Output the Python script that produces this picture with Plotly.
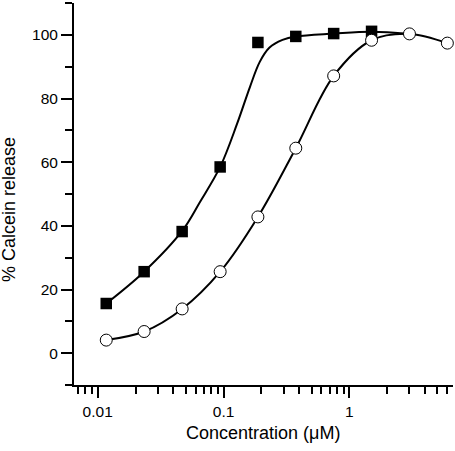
import plotly.graph_objects as go

# Concentrations (µM), twofold dilution series
conc_squares = [0.0117, 0.0234, 0.0469, 0.094, 0.1875, 0.375, 0.75, 1.5]
release_squares = [15.6, 25.6, 38.2, 58.5, 97.6, 99.5, 100.4, 101.1]

conc_circles = [0.0117, 0.0234, 0.0469, 0.094, 0.1875, 0.375, 0.75, 1.5, 3.0, 6.0]
release_circles = [4.1, 6.8, 13.9, 25.6, 42.8, 64.4, 87.1, 98.3, 100.3, 97.4]

# Smooth fitted curve for the filled squares
fit_sq_conc = [0.0117, 0.0234, 0.0469, 0.065, 0.094, 0.128, 0.162, 0.194, 0.232, 0.294, 0.375, 0.75, 1.5, 3.0]
fit_sq_release = [15.6, 25.6, 38.4, 47.5, 58.5, 72.0, 83.6, 91.5, 96.0, 98.4, 99.5, 100.4, 101.0, 100.3]

x_tick_vals = [0.01, 0.1, 1]
x_tick_text = ["0.01", "0.1", "1"]
y_tick_vals = [0, 20, 40, 60, 80, 100]

x_title = "Concentration (\u03bcM)"
y_title = "% Calcein release"

FONT = "Liberation Sans, Arial, sans-serif"
W, H = 455, 451
ML, MR, MT, MB = 74, 2, 3, 66

fig = go.Figure()

fig.add_trace(go.Scatter(
    x=fit_sq_conc, y=fit_sq_release, mode="lines",
    line=dict(color="black", width=2, shape="spline", smoothing=1.0),
    hoverinfo="skip"))
fig.add_trace(go.Scatter(
    x=conc_circles, y=release_circles, mode="lines",
    line=dict(color="black", width=2, shape="spline", smoothing=1.0),
    hoverinfo="skip"))
fig.add_trace(go.Scatter(
    x=conc_squares, y=release_squares, mode="markers",
    marker=dict(symbol="square", size=11.5, color="black",
                line=dict(color="black", width=0))))
fig.add_trace(go.Scatter(
    x=conc_circles, y=release_circles, mode="markers", cliponaxis=False,
    marker=dict(symbol="circle", size=12, color="white",
                line=dict(color="black", width=1))))

pw = W - ML - MR
ph = H - MT - MB

fig.update_layout(
    width=W, height=H,
    margin=dict(l=ML, r=MR, t=MT, b=MB),
    paper_bgcolor="white", plot_bgcolor="white",
    showlegend=False,
    font=dict(family=FONT, color="black", size=15),
    xaxis=dict(
        type="log", range=[-2.188, 0.823], automargin=False,
        tickvals=x_tick_vals, ticktext=x_tick_text,
        ticks="outside", ticklen=11, tickwidth=2, tickcolor="black",
        showline=True, linecolor="black", linewidth=2,
        showgrid=False, zeroline=False,
        minor=dict(ticks="outside", ticklen=7, tickwidth=2, tickcolor="black",
                   dtick="D1", showgrid=False),
        tickfont=dict(size=15.5),
    ),
    yaxis=dict(
        range=[-10, 110], automargin=False,
        tickvals=y_tick_vals,
        ticks="outside", ticklen=11, tickwidth=2, tickcolor="black",
        showline=True, linecolor="black", linewidth=2,
        showgrid=False, zeroline=False,
        minor=dict(ticks="outside", ticklen=7, tickwidth=2, tickcolor="black",
                   tickvals=[-10, 10, 30, 50, 70, 90, 110], showgrid=False),
        tickfont=dict(size=15.5),
    ),
    annotations=[
        dict(text=x_title, xref="paper", yref="paper",
             x=(263 - ML) / pw, y=(H - MB - 433) / ph,
             xanchor="center", yanchor="middle", showarrow=False,
             font=dict(size=18)),
        dict(text=y_title, xref="paper", yref="paper",
             x=(9 - ML) / pw, y=(H - MB - 210) / ph, textangle=-90,
             xanchor="center", yanchor="middle", showarrow=False,
             font=dict(size=18)),
    ],
)

fig.write_html("out.html",
               config={"displayModeBar": False},
               post_script="document.body.style.margin='0';document.body.style.padding='0';")
